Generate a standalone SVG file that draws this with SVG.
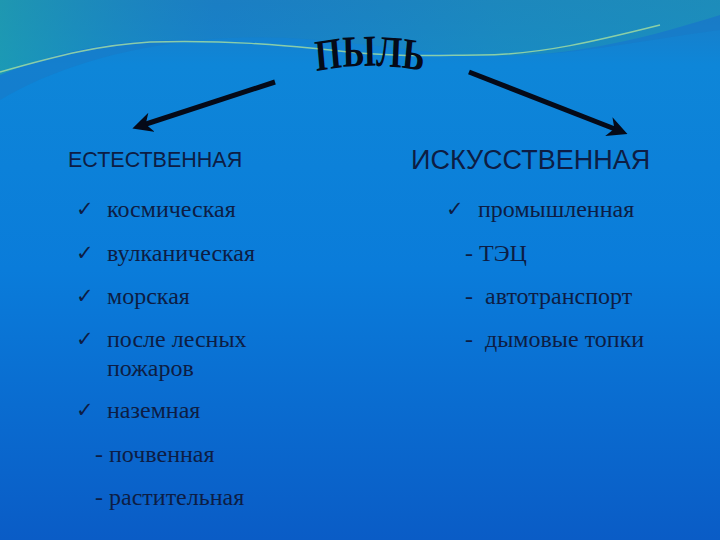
<svg xmlns="http://www.w3.org/2000/svg" width="720" height="540" viewBox="0 0 720 540">
<defs>
<linearGradient id="bg" x1="0" y1="0" x2="0" y2="1">
<stop offset="0" stop-color="#1c7cc4"/>
<stop offset="0.12" stop-color="#0e86d8"/>
<stop offset="0.5" stop-color="#0a7cda"/>
<stop offset="1" stop-color="#0a5cc6"/>
</linearGradient>
<linearGradient id="wave" x1="0" y1="0" x2="1" y2="0">
<stop offset="0" stop-color="#22b0a0" stop-opacity="0.9"/>
<stop offset="0.3" stop-color="#1a90c0" stop-opacity="0.3"/>
<stop offset="0.7" stop-color="#20a0b0" stop-opacity="0.6"/>
<stop offset="1" stop-color="#20a0b0" stop-opacity="0.8"/>
</linearGradient>
<path id="arc" d="M300,75 Q370,61 440,75"/>
<marker id="ah" viewBox="0 0 10 10" refX="6" refY="5" markerWidth="4" markerHeight="4" orient="auto">
<path d="M0,0 L10,5 L0,10 L3,5 Z" fill="#050a18"/>
</marker>
<style>
.t{fill:#0d1d44;font-family:"Liberation Serif",serif;font-size:24px}
.h{fill:#0d1d44;font-family:"Liberation Sans",sans-serif}
.ck{fill:#0d1d44;font-family:"DejaVu Sans",sans-serif;font-size:21px;font-weight:bold}
.ar{stroke:#050a18;stroke-width:5;fill:none;marker-end:url(#ah)}
</style>
</defs>
<rect width="720" height="540" fill="url(#bg)"/>
<path d="M0,0 H720 V30 C640,40 560,60 470,55 C380,50 300,30 200,40 C120,48 50,70 0,100 Z" fill="#1a78c4" opacity="0.5"/>
<path d="M0,75 C60,50 120,38 200,40 C300,30 380,50 470,55 C560,60 640,40 720,15 V0 H330 C420,10 520,25 600,30 C520,0 400,0 320,0 H0 Z" fill="url(#wave)" opacity="0.6"/>
<path d="M0,72 C60,55 100,45 150,42 C230,40 280,45 330,50 C400,58 440,55 480,55 C540,55 600,40 660,25" stroke="#a8e0a0" stroke-width="1.5" fill="none" opacity="0.8"/>
<g id="title" transform="translate(369,75) scale(1,1.3) translate(-369,-75)">
<text font-family="'Liberation Serif',serif" font-weight="bold" font-size="34" fill="#050a18" text-anchor="middle"><textPath href="#arc" startOffset="50%">ПЫЛЬ</textPath></text>
</g>
<g id="connectors">
<line class="ar" x1="275" y1="82" x2="140" y2="126"/>
<line class="ar" x1="469" y1="72" x2="620" y2="131"/>
</g>
<g id="natural">
<text class="h" x="68" y="167" font-size="21.5">ЕСТЕСТВЕННАЯ</text>
<text class="ck" x="76" y="216">✓</text><text class="t" x="107" y="217">космическая</text>
<text class="ck" x="76" y="260">✓</text><text class="t" x="107" y="261">вулканическая</text>
<text class="ck" x="76" y="303">✓</text><text class="t" x="107" y="304">морская</text>
<text class="ck" x="76" y="346">✓</text><text class="t" x="107" y="347">после лесных</text>
<text class="t" x="107" y="376">пожаров</text>
<text class="ck" x="76" y="417">✓</text><text class="t" x="107" y="418">наземная</text>
<text class="t" x="95" y="462">- почвенная</text>
<text class="t" x="95" y="505">- растительная</text>
</g>
<g id="artificial">
<text class="h" x="411" y="169" font-size="27">ИСКУССТВЕННАЯ</text>
<text class="ck" x="446" y="216">✓</text><text class="t" x="478" y="217">промышленная</text>
<text class="t" x="465" y="261">- ТЭЦ</text>
<text class="t" x="465" y="304" xml:space="preserve">-  автотранспорт</text>
<text class="t" x="465" y="347" xml:space="preserve">-  дымовые топки</text>
</g>
</svg>
